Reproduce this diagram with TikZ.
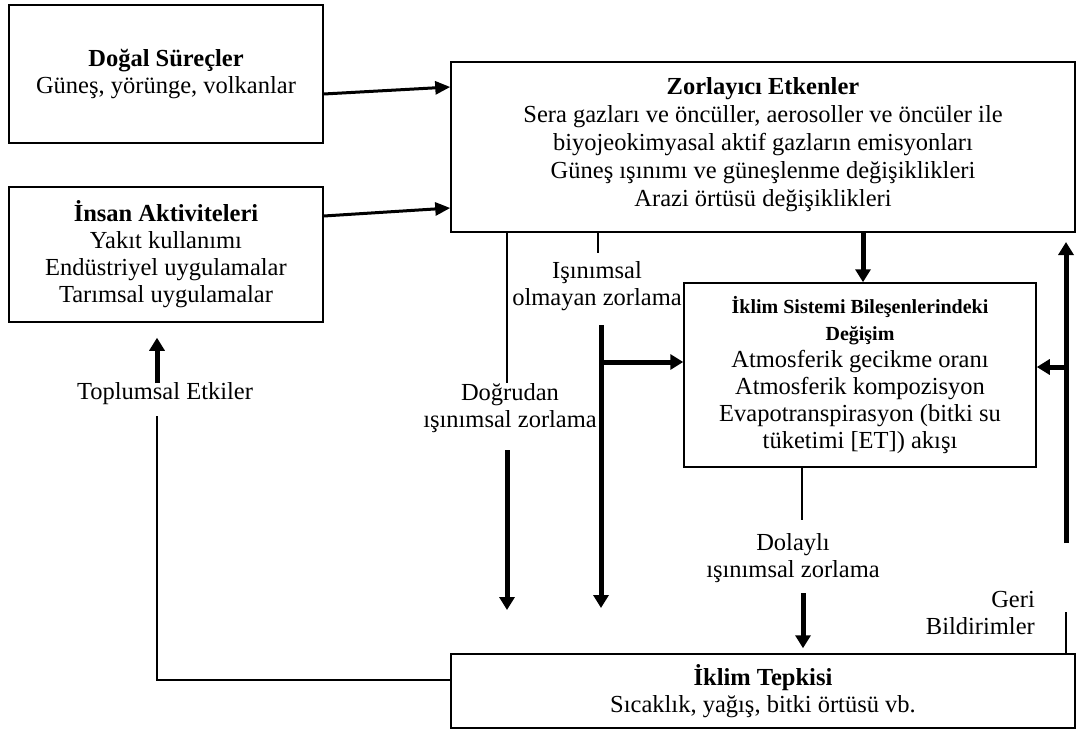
\documentclass[tikz,border=0pt]{standalone}
\usepackage{fontspec}
\setmainfont{Liberation Serif}
\usepackage{tikz}
\usetikzlibrary{arrows.meta}
\newcommand{\sisttitle}{\fontsize{20}{23}\selectfont\bfseries}
\newcommand{\sistbody}{\fontsize{24.5}{27}\selectfont\mdseries}

\begin{document}
\begin{tikzpicture}[
    x=1pt, y=-1pt,
    box/.style={draw, line width=1.5pt, align=center, inner sep=2pt,
      font=\fontsize{24.5}{27}\selectfont},
    lbl/.style={align=center, inner sep=2pt, font=\fontsize{24.5}{27}\selectfont},
    arr/.style={-{Triangle[length=13pt,width=15pt]}, line width=5pt},
    slimarr/.style={-{Triangle[length=15pt,width=13pt]}, line width=3pt},
    midline/.style={line width=2.5pt},
    thinline/.style={line width=1.2pt}
  ]
    \useasboundingbox (0,0) rectangle (1078,733);

    \node[box, minimum width=314pt, minimum height=138pt] (dogal) at (166,74)
      {\textbf{Doğal Süreçler}\\Güneş, yörünge, volkanlar};
    \node[box, minimum width=314pt, minimum height=135pt] (insan) at (166,254.5)
      {\textbf{İnsan Aktiviteleri}\\Yakıt kullanımı\\Endüstriyel uygulamalar\\Tarımsal uygulamalar};
    \node[box, minimum width=624pt, minimum height=170pt, font=\fontsize{24.5}{28}\selectfont] (zorla) at (763,147)
      {\textbf{Zorlayıcı Etkenler}\\Sera gazları ve öncüller, aerosoller ve öncüler ile\\biyojeokimyasal aktif gazların emisyonları\\Güneş ışınımı ve güneşlenme değişiklikleri\\Arazi örtüsü değişiklikleri\\[-18pt]};
    \node[box, minimum width=352pt, minimum height=184pt] (sist) at (860,375)
      {\sisttitle İklim Sistemi Bileşenlerindeki\\\sisttitle Değişim\\\sistbody Atmosferik gecikme oranı\\Atmosferik kompozisyon\\Evapotranspirasyon (bitki su\\tüketimi [ET]) akışı};
    \node[box, minimum width=624pt, minimum height=74pt] (tepki) at (763,691)
      {\textbf{İklim Tepkisi}\\Sıcaklık, yağış, bitki örtüsü vb.};

    \node[lbl] (isinimsal) at (597,286) {Işınımsal\\olmayan zorlama};
    \node[lbl] (dogrudan) at (510,408) {Doğrudan\\ışınımsal zorlama};
    \node[lbl] (dolayli) at (793,558) {Dolaylı\\ışınımsal zorlama};
    \node[lbl, align=right, anchor=east] (geri) at (1037,613) {Geri\\Bildirimler};
    \node[lbl] (toplum) at (165,394) {Toplumsal Etkiler};

    \coordinate (z1) at (863,0);
    \coordinate (i1) at (598,253);
    \coordinate (o1) at (601,325);
    \coordinate (o2) at (601,608);
    \coordinate (o3) at (601,362);
    \coordinate (d1) at (507,383);
    \coordinate (d2) at (507,450);
    \coordinate (d3) at (507,610);
    \coordinate (l1) at (802,520);
    \coordinate (l2) at (803,593);
    \coordinate (g1) at (1066,612);
    \coordinate (g2) at (1066,543);
    \coordinate (g3) at (1066,242);
    \coordinate (g4) at (1066,367);
    \coordinate (t1) at (157,416);
    \coordinate (t2) at (157,383);

    % inputs to the forcing box
    \draw[slimarr] ([yshift=-20pt]dogal.east) -- ([yshift=60pt]zorla.west);
    \draw[slimarr] ([yshift=38.5pt]insan.east) -- ([yshift=-61pt]zorla.west);
    \draw[arr] (zorla.south -| z1) -- (sist.north -| z1);

    % forcing paths
    \draw[thinline] (zorla.south -| i1) -- (i1);
    \draw[arr] (o1) -- (o2);
    \draw[arr] (o3) -- (sist.west |- o3);
    \draw[midline] (zorla.south -| d1) -- (d1);
    \draw[arr] (d2) -- (d3);
    \draw[thinline] (sist.south -| l1) -- (l1);
    \draw[arr, shorten >=5pt] (l2) -- (tepki.north -| l2);

    % feedbacks
    \draw[thinline] (tepki.north -| g1) -- (g1);
    \draw[arr] (g2) -- (g3);
    \draw[arr] (g4) -- (sist.east |- g4);
    \draw[midline] ([yshift=11pt]tepki.west) -| (t1);
    \draw[arr, shorten >=15pt] (t2) -- (insan.south -| t2);
  \end{tikzpicture}
\end{document}
